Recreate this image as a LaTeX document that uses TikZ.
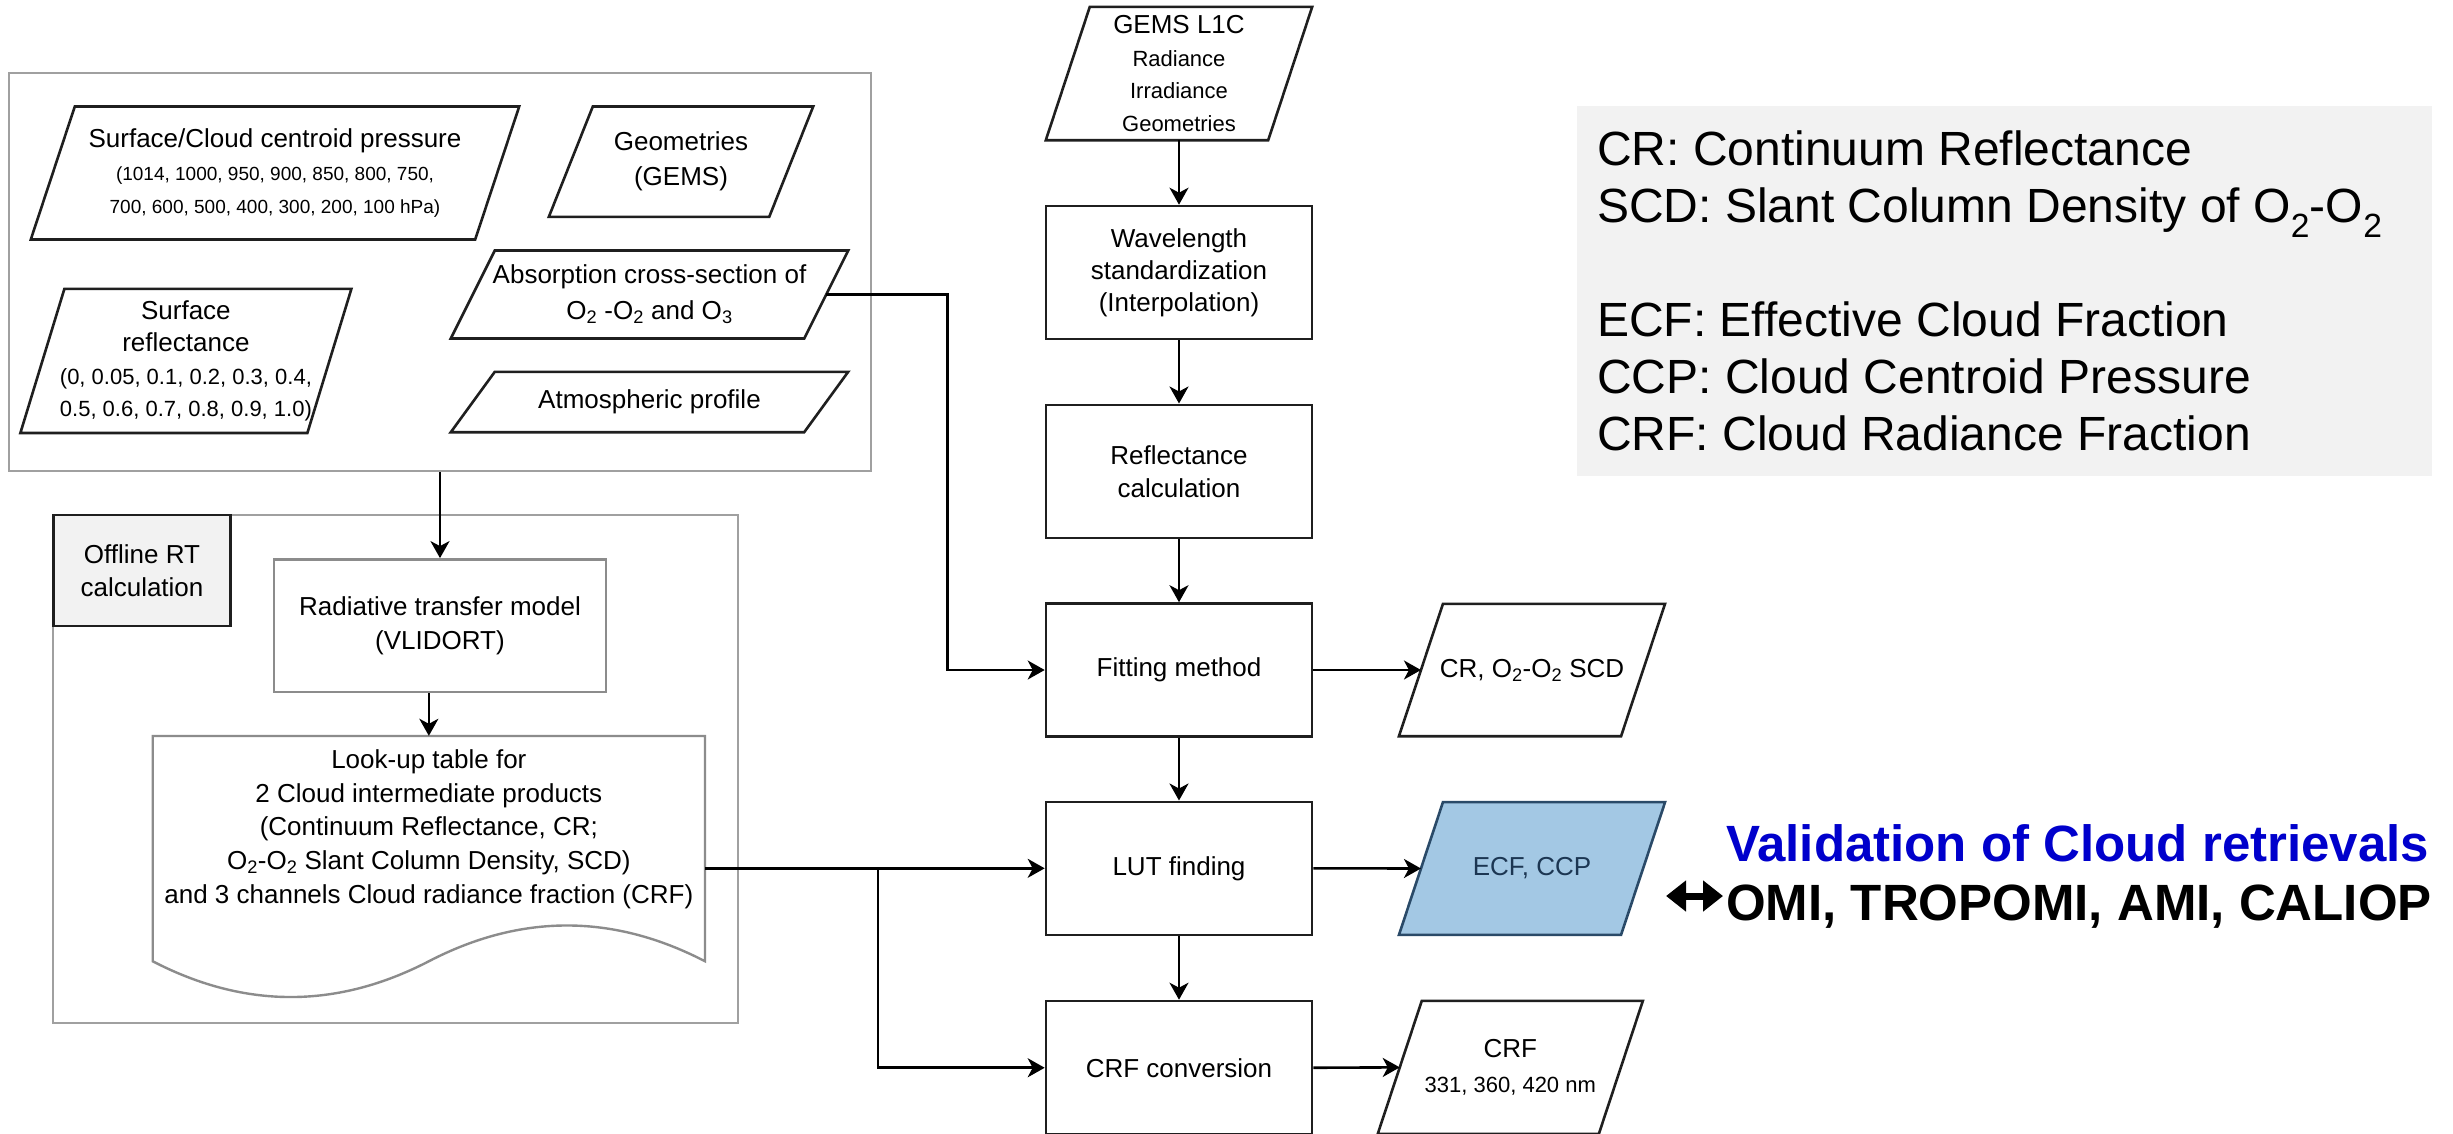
\documentclass[tikz,border=0pt]{standalone}
\usepackage{fontspec}
\setmainfont{Liberation Sans}
\usetikzlibrary{arrows.meta,calc,backgrounds}
\definecolor{boxc}{HTML}{1F1F1F}
\definecolor{grayc}{HTML}{8C8C8C}
\definecolor{outerc}{HTML}{A0A0A0}
\definecolor{legbg}{HTML}{F2F2F2}
\definecolor{ecffill}{HTML}{A3C8E4}
\definecolor{ecfdraw}{HTML}{2A4A68}
\definecolor{ecftext}{HTML}{1C3652}
\definecolor{valblue}{RGB}{0,0,204}
\newcommand\fsz[2]{\fontsize{#1}{#2}\selectfont}
\newcommand\pgshape[2][pline]{\draw[#1] ([xshift=44pt]#2.north west) -- (#2.north east) -- ([xshift=-44pt]#2.south east) -- (#2.south west) -- cycle;}
\begin{document}
\begin{tikzpicture}[x=1pt,y=-1pt,
  every node/.style={inner sep=0pt, align=center, text=black},
  box/.style={draw=boxc, line width=2.6pt, minimum width=266pt, minimum height=133pt, font=\fsz{26}{33}},
  graybox/.style={draw=grayc, line width=2.4pt},
  outerbox/.style={draw=outerc, line width=2.4pt},
  pg/.style n args={2}{minimum width=#1, minimum height=#2, font=\fsz{26}{33}},
  pline/.style={draw=boxc, line width=2.6pt, line join=miter},
  ecfshape/.style={draw=ecfdraw, fill=ecffill, line width=2.6pt},
  arr/.style={line width=2.6pt, draw=black, -{Stealth[length=17pt,width=19pt,inset=5pt]}},
  dbl/.style={line width=7pt, draw=black, {Triangle[length=20pt 0 0,width=30pt 0 0]}-{Triangle[length=20pt 0 0,width=30pt 0 0]}},
]
\begin{pgfonlayer}{background}
\fill[white] (0,0) rectangle (2453,1133);
\end{pgfonlayer}
\useasboundingbox (0,0) rectangle (2453,1133);

% ---------- input block ----------
\node[outerbox, minimum width=862pt, minimum height=398pt] (topbox) at (440,272) {};
\node[pg={488pt}{132.6pt}] (press) at (275,173) {Surface/Cloud centroid pressure\\
  {\fsz{19}{33}(1014, 1000, 950, 900, 850, 800, 750,}\\
  {\fsz{19}{33}700, 600, 500, 400, 300, 200, 100 hPa)}};
\pgshape{press}
\node[pg={264pt}{110pt}, font=\fsz{26}{35}] (geom) at (681,161.7) {Geometries\\(GEMS)};
\pgshape{geom}
\node[pg={397pt}{87.6pt}, font=\fsz{26}{36}] (absorb) at (649.5,294.5) {Absorption cross-section of\\
  O\textsubscript{2} -O\textsubscript{2} and O\textsubscript{3}};
\pgshape{absorb}
\node[pg={397pt}{60pt}] (atm) at (649.5,402) {Atmospheric profile};
\pgshape{atm}
\node[pg={330.6pt}{143.7pt}, font=\fsz{26}{32.5}] (sref) at (185.9,360.9) {Surface\\reflectance\\
  {\fsz{22}{32.5}(0, 0.05, 0.1, 0.2, 0.3, 0.4,}\\
  {\fsz{22}{32.5}0.5, 0.6, 0.7, 0.8, 0.9, 1.0)}};
\pgshape{sref}

% ---------- offline block ----------
\node[outerbox, minimum width=685pt, minimum height=507.7pt] (offbox) at (395.5,768.85) {};
\node[draw=boxc, fill=legbg, line width=2.6pt, minimum width=177.4pt, minimum height=111pt, font=\fsz{26}{33}] (offlbl) at (142,570.5) {Offline RT\\calculation};
\node[graybox, minimum width=332pt, minimum height=132.7pt, font=\fsz{26}{34.5}] (rad) at (440,625.65) {Radiative transfer model\\(VLIDORT)};
\node[minimum width=552.3pt, minimum height=265pt] (lutdoc) at (428.85,868.5) {};
\draw[graybox] (152.7,736) -- (705,736) -- (705,961.25)
  .. controls (612.9,913.55) and (520.9,913.55) .. (428.85,961.25)
  .. controls (336.8,1008.95) and (244.77,1008.95) .. (152.7,961.25) -- cycle;
\node[font=\fsz{26}{33.75}] (luttext) at (428.85,829.2) {Look-up table for\\
  2 Cloud intermediate products\\
  (Continuum Reflectance, CR;\\
  O\textsubscript{2}-O\textsubscript{2} Slant Column Density, SCD)\\
  and 3 channels Cloud radiance fraction (CRF)};

% ---------- main column ----------
\node[pg={266pt}{133pt}, font=\fsz{26}{32.5}] (gems) at (1179,73.5) {GEMS L1C\\
  {\fsz{22}{32.5}Radiance}\\{\fsz{22}{32.5}Irradiance}\\{\fsz{22}{32.5}Geometries}};
\pgshape{gems}
\node[box, font=\fsz{26}{32}] (wav) at (1179,272.5) {Wavelength\\standardization\\(Interpolation)};
\node[box] (refl) at (1179,471.3) {Reflectance\\calculation};
\node[box] (fit) at (1179,670) {Fitting method};
\node[box] (lut) at (1179,868.3) {LUT finding};
\node[box, minimum height=133.5pt] (crfc) at (1179,1067.75) {CRF conversion};

% ---------- outputs ----------
\node[pg={265.7pt}{132pt}] (cr) at (1532,670) {CR, O\textsubscript{2}-O\textsubscript{2} SCD};
\pgshape{cr}
\node[pg={265.7pt}{132.3pt}, text=ecftext] (ecf) at (1532,868.5) {ECF, CCP};
\begin{pgfonlayer}{background}
\pgshape[ecfshape]{ecf}
\end{pgfonlayer}
\node[pg={264.7pt}{132.6pt}, font=\fsz{26}{35}] (crf) at (1510.3,1067.35) {CRF\\{\fsz{22}{35}331, 360, 420 nm}};
\pgshape{crf}

% ---------- legend ----------
\node[fill=legbg, minimum width=855pt, minimum height=370pt] (legbox) at (2004.5,291) {};
\node[anchor=north west, align=left, font=\fsz{48}{57}] (legtxt) at (1597,131) {CR: Continuum Reflectance\\
  SCD: Slant Column Density of O\textsubscript{2}-O\textsubscript{2}\\[57pt]
  ECF: Effective Cloud Fraction\\
  CCP: Cloud Centroid Pressure\\
  CRF: Cloud Radiance Fraction};

% ---------- validation ----------
\node[anchor=north west, align=left, font=\fsz{51}{59}\bfseries] (val) at (1726,824) {\textcolor{valblue}{Validation of Cloud retrievals}\\
  OMI, TROPOMI, AMI, CALIOP};

% ---------- connectors ----------
\draw[arr] (topbox.south) -- (rad.north);
\draw[arr] (rad.south -| lutdoc.north) -- (lutdoc.north);
\draw[arr] (gems.south) -- (wav.north);
\draw[arr] (wav.south) -- (refl.north);
\draw[arr] (refl.south) -- (fit.north);
\draw[arr] (fit.south) -- (lut.north);
\draw[arr] (lut.south) -- (crfc.north);
\draw[arr] ([xshift=-22pt]absorb.east) -- ++(121,0) |- (fit.west);
\draw[arr] (lutdoc.east |- lut.west) -- (lut.west);
\coordinate (branch) at (878,868.3);
\draw[arr] (branch) |- (crfc.west);
\draw[arr] (fit.east) -- ([xshift=22pt]cr.west);
\draw[arr] (lut.east) -- ([xshift=22pt]ecf.west);
\draw[arr] (crfc.east) -- ([xshift=22pt]crf.west);
\coordinate (dbA) at ($(ecf.east)+(1,27.5)$);
\draw[dbl] (dbA) -- ($(val.west |- dbA)+(-3,0)$);
\end{tikzpicture}
\end{document}
